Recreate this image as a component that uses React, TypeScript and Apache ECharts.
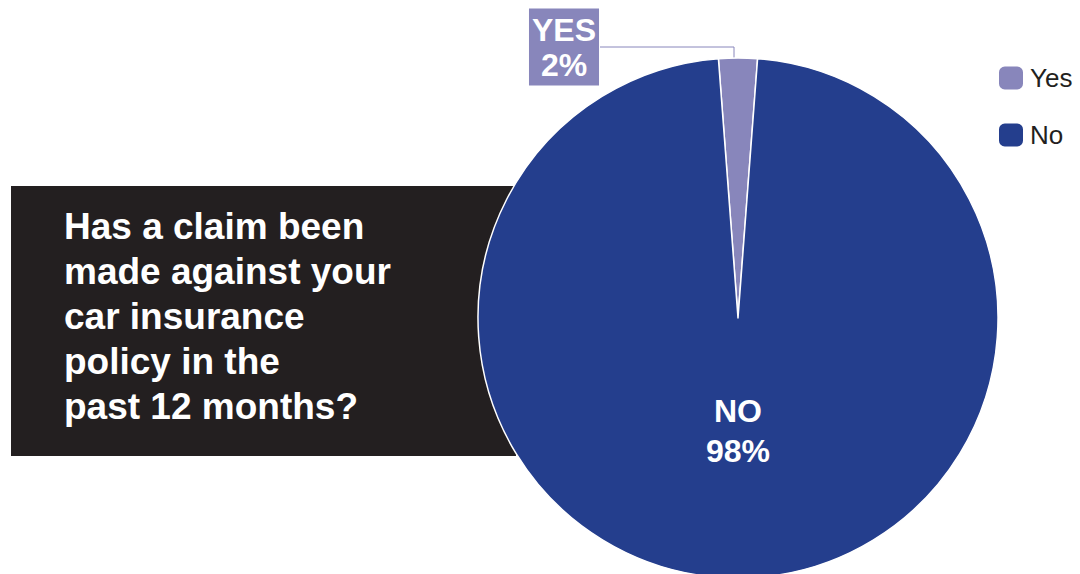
import React, { useEffect, useRef } from "react";
import * as echarts from "echarts";

const categories = ["Yes", "No"];
const values = [2.4, 97.6];
const labelNames = ["YES", "NO"];
const colors = ["#8886bb", "#243e8d"];
const questionLines = [
  "Has a claim been",
  "made against your",
  "car insurance",
  "policy in the",
  "past 12 months?",
];

const FONT = "'Liberation Sans', Arial, Helvetica, sans-serif";

export default function App() {
  const ref = useRef<HTMLDivElement>(null);
  useEffect(() => {
    if (!ref.current) return;
    const chart = echarts.init(ref.current, undefined, { renderer: "svg" });
    const cx = 738;
    const cy = 318;
    const r = 260;
    const yesAngle = (values[0] / (values[0] + values[1])) * 360;
    chart.setOption({
      animation: false,
      backgroundColor: "#ffffff",
      title: {
        text: questionLines.join("\n"),
        left: 64,
        top: 204,
        padding: 0,
        textStyle: {
          color: "#ffffff",
          fontFamily: FONT,
          fontWeight: "bold",
          fontSize: 37,
          lineHeight: 45,
        },
        z: 1,
      },
      legend: {
        orient: "vertical",
        left: 999,
        top: 65,
        padding: 0,
        itemWidth: 24,
        itemHeight: 23,
        itemGap: 31,
        icon: "roundRect",
        data: categories,
        itemStyle: { borderWidth: 0 },
        textStyle: {
          fontFamily: FONT,
          fontSize: 26,
          color: "#231f20",
          padding: [0, 0, 0, 2],
        },
      },
      graphic: [
        {
          type: "rect",
          shape: { x: 11, y: 186, width: 505, height: 270 },
          style: { fill: "#231f20" },
          z: 0,
        },
      ],
      series: [
        {
          type: "pie",
          center: [cx, cy],
          radius: [0, r],
          startAngle: 90 + yesAngle / 2,
          clockwise: true,
          z: 3,
          itemStyle: { borderColor: "#ffffff", borderWidth: 1.5 },
          data: categories.map((c, i) => ({
            name: c,
            value: values[i],
            itemStyle: { color: colors[i] },
            label:
              i === 0
                ? {
                    show: true,
                    position: "outside",
                    backgroundColor: colors[0],
                    padding: [5, 3, 2, 3],
                    align: "center",
                    verticalAlign: "middle",
                    lineHeight: 35,
                    fontSize: 32,
                  }
                : {
                    show: true,
                    position: "inside",
                    lineHeight: 40,
                    offset: [0, -20],
                    fontSize: 32,
                  },
            labelLine:
              i === 0
                ? { show: true, lineStyle: { color: colors[0], width: 1 } }
                : { show: false },
          })),
          label: {
            color: "#ffffff",
            fontFamily: FONT,
            fontWeight: "bold",
            fontSize: 30,
            overflow: "none",
            formatter: (p: any) =>
              labelNames[p.dataIndex] + "\n" + Math.round(p.percent) + "%",
          },
          labelLayout: (p: any) => {
            if (p.dataIndex === 0) {
              return {
                x: 564,
                y: 47,
                align: "center",
                verticalAlign: "middle",
                labelLinePoints: [
                  [734, 59],
                  [734, 47],
                  [600, 47],
                ],
              };
            }
            return {};
          },
        },
      ],
    });
    return () => chart.dispose();
  }, []);
  return (
    <div
      ref={ref}
      style={{ position: "fixed", left: 0, top: 0, width: 1080, height: 574 }}
    />
  );
}
